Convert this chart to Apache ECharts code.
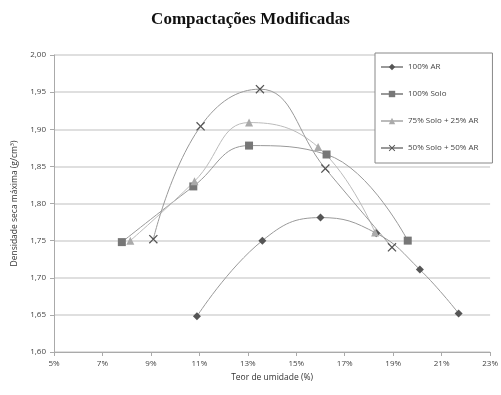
<!DOCTYPE html>
<html><head><meta charset="utf-8">
<script src="https://cdn.jsdelivr.net/npm/echarts@6/dist/echarts.min.js"></script>
<style>html,body{margin:0;padding:0;background:#fff}#c{width:501px;height:395px}</style>
</head><body><div id="c"></div>
<script>
const seriesNames = ['100% AR', '100% Solo', '75% Solo + 25% AR', '50% Solo + 50% AR'];
const ar100X = [10.9, 13.6, 16.0, 18.3, 20.1, 21.7];
const ar100Y = [1.648, 1.750, 1.781, 1.760, 1.711, 1.652];
const solo100X = [7.8, 10.75, 13.05, 16.25, 19.6];
const solo100Y = [1.748, 1.823, 1.878, 1.866, 1.750];
const solo75X = [8.15, 10.8, 13.05, 15.9, 18.25];
const solo75Y = [1.750, 1.830, 1.909, 1.876, 1.761];
const solo50X = [9.1, 11.05, 13.5, 16.2, 18.95];
const solo50Y = [1.752, 1.904, 1.954, 1.847, 1.741];
const yTicks = {min: 1.6, max: 2.0, step: 0.05};
const xTicks = {min: 5, max: 23, step: 2};

const pair = (xs, ys) => xs.map((x, i) => [x, ys[i]]);
const xPath = 'path://M0,1L1,0L5,4L9,0L10,1L6,5L10,9L9,10L5,6L1,10L0,9L4,5Z';

const chart = echarts.init(document.getElementById('c'));
const axisFont = {fontFamily: 'Open Sans', fontSize: 8, color: '#444'};
chart.setOption({
  animation: false,
  title: {text: 'Compactações Modificadas', left: 'center', top: 6,
    textStyle: {fontFamily: 'Liberation Serif', fontWeight: 'bold', fontSize: 17, color: '#111'}},
  grid: {left: 54, right: 9, top: 55, bottom: 43},
  legend: {orient: 'vertical', left: 375, top: 53, width: 110,
    backgroundColor: '#fff', borderColor: '#888', borderWidth: 1,
    padding: [10, 14, 11, 5], itemGap: 19, itemWidth: 22, itemHeight: 8,
    textStyle: {fontFamily: 'Open Sans', fontSize: 8, color: '#444'},
    data: seriesNames},
  xAxis: {type: 'value', min: xTicks.min, max: xTicks.max, interval: xTicks.step,
    name: 'Teor de umidade (%)', nameLocation: 'middle', nameGap: 20,
    nameTextStyle: {fontFamily: 'Open Sans', fontSize: 8.5, color: '#333'},
    axisLine: {lineStyle: {color: '#aaa'}}, axisTick: {show: true, length: 4, lineStyle: {color: '#aaa'}},
    splitLine: {show: false},
    axisLabel: Object.assign({formatter: v => v + '%', margin: 8}, axisFont)},
  yAxis: {type: 'value', min: yTicks.min, max: yTicks.max, interval: yTicks.step,
    name: 'Densidade seca máxima (g/cm³)', nameLocation: 'middle', nameGap: 34,
    nameTextStyle: {fontFamily: 'Open Sans', fontSize: 8.5, color: '#333'},
    axisLine: {show: true, lineStyle: {color: '#aaa'}}, axisTick: {show: true, length: 4, lineStyle: {color: '#aaa'}},
    splitLine: {lineStyle: {color: '#d4d4d4', width: 1.5}},
    axisLabel: Object.assign({formatter: v => v.toFixed(2).replace('.', ','), margin: 8}, axisFont)},
  series: [
    {name: seriesNames[0], type: 'line', smooth: 0.45, data: pair(ar100X, ar100Y),
      symbol: 'diamond', symbolSize: 8, itemStyle: {color: '#555'}, lineStyle: {color: '#999', width: 1}},
    {name: seriesNames[1], type: 'line', smooth: 0.45, data: pair(solo100X, solo100Y),
      symbol: 'rect', symbolSize: 8, itemStyle: {color: '#777'}, lineStyle: {color: '#999', width: 1}},
    {name: seriesNames[2], type: 'line', smooth: 0.45, data: pair(solo75X, solo75Y),
      symbol: 'triangle', symbolSize: 8, itemStyle: {color: '#aaa'}, lineStyle: {color: '#bbb', width: 1}},
    {name: seriesNames[3], type: 'line', smooth: 0.45, data: pair(solo50X, solo50Y),
      symbol: xPath, symbolSize: 9, itemStyle: {color: '#555'}, lineStyle: {color: '#999', width: 1}}
  ]
});
</script></body></html>
